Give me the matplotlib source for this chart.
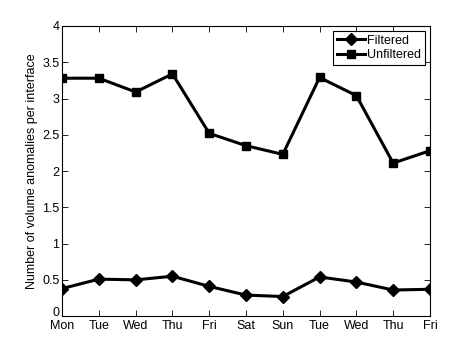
import numpy as np
import matplotlib
matplotlib.use("Agg")
import matplotlib.pyplot as plt

plt.rcParams['font.family'] = ['Liberation Sans', 'DejaVu Sans']

days = ["Mon", "Tue", "Wed", "Thu", "Fri", "Sat", "Sun", "Tue", "Wed", "Thu", "Fri"]
filtered = [0.38, 0.51, 0.50, 0.55, 0.41, 0.29, 0.27, 0.54, 0.47, 0.36, 0.37]
unfiltered = [3.28, 3.28, 3.09, 3.34, 2.52, 2.35, 2.23, 3.29, 3.04, 2.11, 2.28]

x = np.arange(1, len(days) + 1)

fig = plt.figure(figsize=(4.74, 3.56), dpi=100)
ax = fig.add_axes([0.131, 0.112, 0.776, 0.815])

ax.plot(x, filtered, color='k', lw=2.2, marker='D', ms=6, label='Filtered')
ax.plot(x, unfiltered, color='k', lw=2.2, marker='s', ms=6, label='Unfiltered')

ax.set_xlim(1, len(days))
ax.set_ylim(0, 4)
ax.set_xticks(x)
ax.set_xticklabels(days)
ax.set_yticks(np.arange(0, 4.01, 0.5))
ax.set_yticklabels(["0", "0.5", "1", "1.5", "2", "2.5", "3", "3.5", "4"])
ax.tick_params(direction='in', top=True, right=True, labelsize=9, length=4, width=0.6, pad=2)
ax.tick_params(axis='x', pad=3)
for s in ax.spines.values():
    s.set_linewidth(0.8)

# the "0" sits just above the axis line, clear of "Mon"
ax.yaxis.get_major_ticks()[0].label1.set_verticalalignment('baseline')

ax.set_ylabel("Number of volume anomalies per interface", fontsize=9, labelpad=3)

leg = ax.legend(loc='upper right', fontsize=9, fancybox=False, framealpha=1,
                edgecolor='k', handlelength=2.2, borderpad=0.3, labelspacing=0.2,
                handletextpad=0.2, borderaxespad=0.4)
leg.get_frame().set_linewidth(0.8)

fig.savefig("out.png", dpi=100)
